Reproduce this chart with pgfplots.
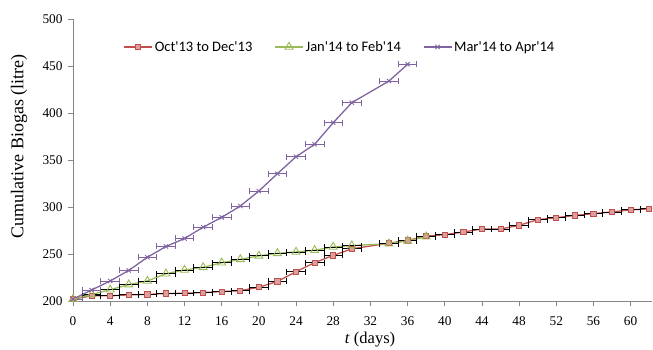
\documentclass[border=0pt]{standalone}
\usepackage{fontspec}
\setmainfont{Liberation Serif}
\newfontfamily\lserif{Liberation Serif}
\newfontfamily\carlito{Carlito}
\usepackage{pgfplots}
\pgfplotsset{compat=1.18}
\definecolor{cred}{HTML}{C0504D}
\definecolor{cgreen}{HTML}{9BBB59}
\definecolor{cpurple}{HTML}{8064A2}
\definecolor{axgray}{HTML}{868686}
\begin{document}
\begin{tikzpicture}
\begin{axis}[
  scale only axis, width=579pt, height=282pt,
  xmin=0, xmax=62.3, ymin=200, ymax=500,
  xtick={0,4,...,60}, ytick={200,250,...,500},
  axis x line*=bottom, axis y line*=left,
  axis line style={axgray, line width=0.8pt, -},
  tick style={axgray, line width=0.8pt},
  tick align=outside, major tick length=5pt,
  ticklabel style={font=\lserif\fontsize{13.3}{15}\selectfont},
  xticklabel style={yshift=-7pt},
  yticklabel style={xshift=-2pt},
  /pgf/number format/assume math mode=true,
  xlabel={\textit{t} (days)},
  ylabel={Cumulative Biogas (litre)},
  xlabel style={font=\lserif\fontsize{16.5}{19}\selectfont, at={(axis description cs:0.513,-0.149)}, anchor=base},
  ylabel style={font=\lserif\fontsize{18}{21}\selectfont, at={(axis description cs:-0.0933,0.548)}, anchor=center},
  legend style={draw=none, fill=none, legend columns=3,
    font=\carlito\fontsize{14.5}{17}\selectfont,
    at={(axis description cs:0.461,0.901)}, anchor=center,
    /tikz/every even column/.append style={column sep=20pt}},
  legend cell align=left,
  legend image code/.code={\draw[mark repeat=2,mark phase=2] plot coordinates {(0pt,0pt) (14pt,0pt) (28pt,0pt)};},
]
\addplot[color=cred, line width=1.3pt, mark=square*, mark size=2.6pt,
  mark options={fill=cred!55!white, draw=cred, line width=0.8pt},
  error bars/.cd, x dir=both, x fixed=1,
  error bar style={black, line width=0.8pt},
  error mark options={black, rotate=90, mark size=3pt, line width=0.8pt}]
coordinates {
(0,202) (2,205.5) (4,205.5) (6,206.5) (8,207) (10,208) (12,208.2) (14,209)
(16,210) (18,211) (20,214.6) (22,220.8) (24,231.2) (26,240.8) (28,248.5)
(30,255.5) (34,261.5) (36,264.5) (38,269) (40,270.5) (42,273.4) (44,276.6)
(46,276.6) (48,280.5) (50,286.5) (52,288.6) (54,291) (56,293) (58,294.7)
(60,297) (62,298)
};
\addlegendentry{Oct'13 to Dec'13}
\addplot[color=cgreen, line width=1.3pt, mark=triangle, mark size=4.6pt,
  mark options={draw=cgreen, fill=none, line width=0.9pt},
  error bars/.cd, x dir=both, x fixed=1,
  error bar style={black, line width=0.8pt},
  error mark options={black, rotate=90, mark size=3pt, line width=0.8pt}]
coordinates {
(0,202) (2,207) (4,212) (6,217.5) (8,221.3) (10,229) (12,233) (14,235.8)
(16,240.7) (18,244.3) (20,248) (22,250.7) (24,252.2) (26,254) (28,257.5)
(30,259) (34,261) (36,264) (38,268.4)
};
\addlegendentry{Jan'14 to Feb'14}
\addplot[color=cpurple, line width=1.3pt, mark=x, mark size=3pt,
  mark options={draw=cpurple, line width=0.9pt},
  error bars/.cd, x dir=both, x fixed=1,
  error bar style={cpurple, line width=0.8pt},
  error mark options={cpurple, rotate=90, mark size=3pt, line width=0.8pt}]
coordinates {
(0,202) (2,211.7) (4,221.3) (6,232.5) (8,246.5) (10,258) (12,266.5)
(14,278.5) (16,289) (18,301) (20,317) (22,335.5) (24,353.5) (26,366.7)
(28,389.7) (30,411) (34,434) (36,451.8)
};
\addlegendentry{Mar'14 to Apr'14}
\end{axis}
\path ([xshift=-73pt,yshift=-46pt]current axis.south west) rectangle ([xshift=1pt,yshift=19pt]current axis.north east);
\end{tikzpicture}
\end{document}
